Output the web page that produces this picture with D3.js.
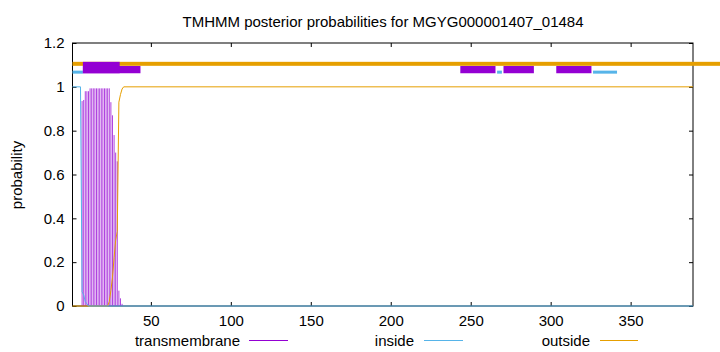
<!DOCTYPE html>
<html><head><meta charset="utf-8">
<script src="https://cdn.jsdelivr.net/npm/d3@7"></script>
<style>body{margin:0;background:#fff}svg{display:block}text{font-family:"Liberation Sans",Arial,sans-serif;fill:#000}</style>
</head><body><div id="chart"></div>
<script>
const seqLength = 389;
const xTicks = [50,100,150,200,250,300,350];
const yTicks = [0,0.2,0.4,0.6,0.8,1,1.2];
const yTickLabels = ["0","0.2","0.4","0.6","0.8","1","1.2"];
const seriesNames = ["transmembrane","inside","outside"];
// transmembrane posterior (impulses), residues 7..32, others 0
const tmResidues = [7,8,9,10,11,12,13,14,15,16,17,18,19,20,21,22,23,24,25,26,27,28,29,30,31,32];
const tmValues   = [0.935,0.94,0.98,0.98,0.98,0.993,0.993,0.993,0.993,0.993,0.993,0.993,0.993,0.993,0.993,0.993,0.993,0.993,0.93,0.87,0.78,0.70,0.66,0.07,0.035,0.01];
// inside posterior (line vertices)
const insideResidues = [1,6,7,8,9,10,11,389];
const insideValues   = [1,1,0.065,0.05,0.02,0.01,0,0];
// outside posterior (line vertices)
const outsideResidues = [1,23,24,25,26,27,28,29,30,31,32,33,389];
const outsideValues   = [0,0,0.02,0.07,0.13,0.22,0.30,0.34,0.93,0.965,0.99,1,1];
// predicted topology segments (start, end residue)
const outsideSegments = [[1,406]];
const insideSegments = [[1,7],[267,269],[327,341]];
const tmSegments = [[8,43],[244,265],[271,289],[304,325]];
const tmTopSegments = [[8,30]];

const W=720,H=352;
const L=72.5,R=693,T=43,B=306;
const FS=15;
const colors={tm:"#9400d3",inside:"#56b4e9",outside:"#e69f00"};
const svg=d3.select("#chart").append("svg").attr("width",W).attr("height",H);
const x=d3.scaleLinear().domain([1,seqLength]).range([L,R]);
const y=d3.scaleLinear().domain([0,1.2]).range([B,T]);
const cx=v=>Math.max(L,Math.min(W,x(v)));

// title
svg.append("text").attr("x",383).attr("y",27).attr("text-anchor","middle").attr("font-size",FS)
  .text("TMHMM posterior probabilities for MGYG000001407_01484");
svg.append("text").attr("transform","translate(22,175) rotate(-90)").attr("text-anchor","middle").attr("font-size",FS).text("probability");

// axes
const gx=svg.append("g").attr("transform",`translate(0,${B})`)
  .call(d3.axisBottom(x).tickValues(xTicks).tickSize(-4).tickPadding(9).tickFormat(d3.format("d")));
const gy=svg.append("g").attr("transform",`translate(${L},0)`)
  .call(d3.axisLeft(y).tickValues(yTicks).tickSize(-4).tickPadding(8).tickFormat((d,i)=>yTickLabels[i]));
const gx2=svg.append("g").attr("transform",`translate(0,${T})`)
  .call(d3.axisTop(x).tickValues(xTicks).tickSize(-4).tickFormat(""));
const gy2=svg.append("g").attr("transform",`translate(${R},0)`)
  .call(d3.axisRight(y).tickValues(yTicks).tickSize(-4).tickFormat(""));
[gx,gy,gx2,gy2].forEach(g=>{g.select(".domain").remove();g.selectAll("line").attr("stroke","#000");g.selectAll("text").attr("font-size",FS).attr("font-family","Liberation Sans, Arial, sans-serif");});
svg.append("rect").attr("x",L).attr("y",T).attr("width",R-L).attr("height",B-T).attr("fill","none").attr("stroke","#000").attr("stroke-width",1);

// topology bars
svg.append("g").selectAll("rect").data(outsideSegments).join("rect")
  .attr("x",d=>cx(d[0]-0.5)).attr("width",d=>cx(d[1]+0.5)-cx(d[0]-0.5))
  .attr("y",y(1.105)-2).attr("height",4).attr("fill",colors.outside);
svg.append("g").selectAll("rect").data(insideSegments).join("rect")
  .attr("x",d=>cx(d[0]-0.5)).attr("width",d=>cx(d[1]+0.5)-cx(d[0]-0.5))
  .attr("y",y(1.067)-1.5).attr("height",3).attr("fill",colors.inside);
svg.append("g").selectAll("rect").data(tmSegments).join("rect")
  .attr("x",d=>cx(d[0]-0.5)).attr("width",d=>cx(d[1]+0.5)-cx(d[0]-0.5))
  .attr("y",y(1.095)).attr("height",y(1.062)-y(1.095)).attr("fill",colors.tm);
svg.append("g").selectAll("rect").data(tmTopSegments).join("rect")
  .attr("x",d=>cx(d[0]-0.5)).attr("width",d=>cx(d[1]+0.5)-cx(d[0]-0.5))
  .attr("y",y(1.114)).attr("height",y(1.062)-y(1.114)).attr("fill",colors.tm);

// impulses
const tmData=tmResidues.map((r,i)=>({r,v:tmValues[i]}));
svg.append("g").selectAll("line").data(tmData).join("line")
  .attr("x1",d=>x(d.r)).attr("x2",d=>x(d.r)).attr("y1",y(0)).attr("y2",d=>y(d.v))
  .attr("stroke",colors.tm).attr("stroke-width",1).attr("stroke-opacity",0.75);

const line=d3.line().x(d=>x(d[0])).y(d=>y(d[1]));
svg.append("path").attr("d",line(outsideResidues.map((r,i)=>[r,outsideValues[i]])))
  .attr("fill","none").attr("stroke",colors.outside).attr("stroke-width",1);
svg.append("path").attr("d",line(insideResidues.map((r,i)=>[r,insideValues[i]])))
  .attr("fill","none").attr("stroke",colors.inside).attr("stroke-width",1);

// legend
const legend=[{name:seriesNames[0],c:colors.tm,tx:240,l1:249,l2:288},
              {name:seriesNames[1],c:colors.inside,tx:414,l1:424,l2:463},
              {name:seriesNames[2],c:colors.outside,tx:590,l1:600,l2:638}];
const lg=svg.append("g").selectAll("g").data(legend).join("g");
lg.append("text").attr("x",d=>d.tx).attr("y",345.5).attr("text-anchor","end").attr("font-size",FS).text(d=>d.name);
lg.append("line").attr("x1",d=>d.l1).attr("x2",d=>d.l2).attr("y1",340.5).attr("y2",340.5).attr("stroke",d=>d.c).attr("stroke-width",1);
</script></body></html>
